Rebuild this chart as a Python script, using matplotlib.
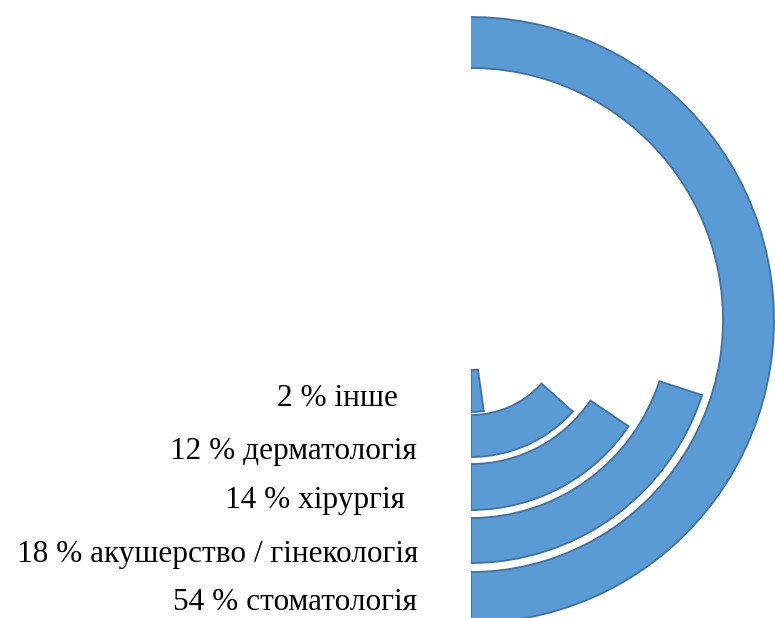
import matplotlib
matplotlib.use('Agg')
import matplotlib.pyplot as plt
from matplotlib.patches import Wedge, Rectangle

# inner ring first
categorias = ['інше', 'дерматологія', 'хірургія', 'акушерство / гінекологія', 'стоматологія']
valores = [2, 12, 14, 18, 54]

vuelta_completa = 90  # percent that would close a full circle
centro = (471, 298)
radio_int = [50, 95, 144, 198, 252]
radio_ext = [92, 137, 190, 243, 303]

# label anchors (right edge, baseline) in pixels from the top
etiqueta_x = [398, 417, 405, 418, 417]
etiqueta_y = [406, 459, 508, 562, 610]

fig = plt.figure(figsize=(7.75, 6.18), dpi=100)
ax = fig.add_axes([0, 0, 1, 1])
ax.set_xlim(0, 775)
ax.set_ylim(0, 618)
ax.axis('off')

# left half of the rings is hidden behind the labels
recorte = Rectangle((centro[0], -10), 400, 700, transform=ax.transData)

for i, (cat, v) in enumerate(zip(categorias, valores)):
    ancho = radio_ext[i] - radio_int[i]
    arco = Wedge(centro, radio_ext[i], 270, 270 + v / vuelta_completa * 360,
                 width=ancho, facecolor='#5B9BD5', edgecolor='#41719C', linewidth=1.3)
    ax.add_patch(arco)
    arco.set_clip_path(recorte)

    ax.text(etiqueta_x[i], 618 - etiqueta_y[i], str(v) + ' % ' + cat,
            ha='right', va='baseline', fontsize=22.5, family='Liberation Serif')

fig.savefig('out.png', dpi=100)
